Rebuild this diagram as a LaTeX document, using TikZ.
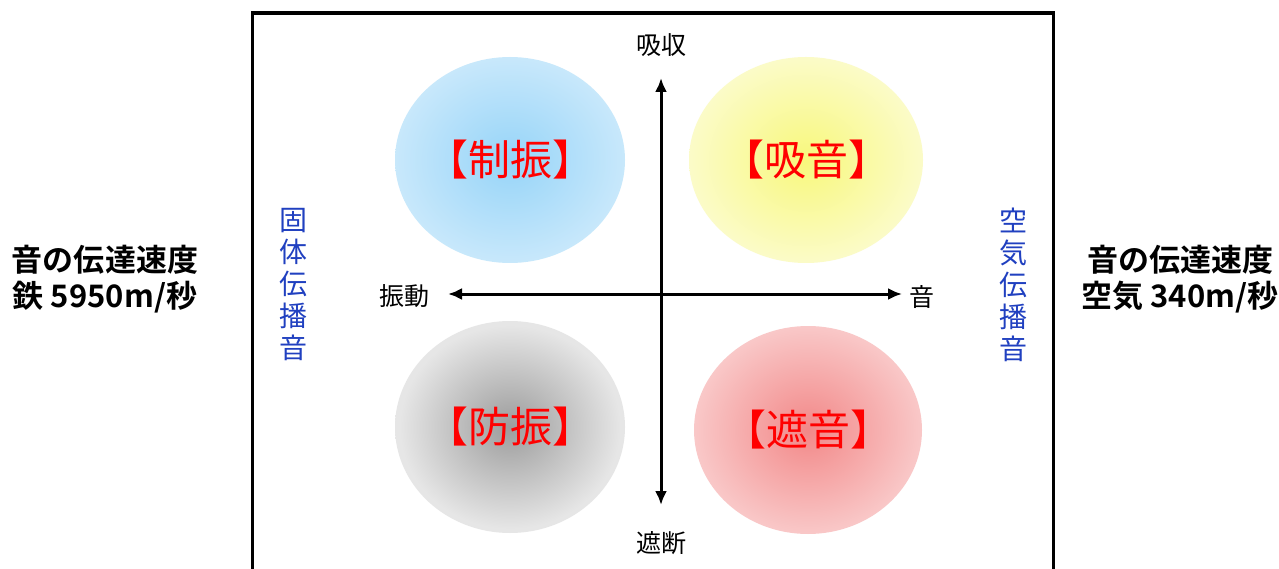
\documentclass[tikz,border=0pt]{standalone}
\usepackage{fontspec}
\setmainfont{Noto Sans CJK JP}
\newfontfamily\jpb{Noto Sans CJK JP Bold}
\usetikzlibrary{arrows.meta,shapes.geometric}
\definecolor{blueIn}{HTML}{96D4F8}
\definecolor{blueOut}{HTML}{C8E8FB}
\definecolor{yelIn}{HTML}{F8F87C}
\definecolor{yelOut}{HTML}{FBFBC8}
\definecolor{grayIn}{HTML}{9C9C9C}
\definecolor{grayOut}{HTML}{E6E6E6}
\definecolor{pinkIn}{HTML}{F28888}
\definecolor{pinkOut}{HTML}{F9C8C8}
\definecolor{txtRed}{HTML}{FF0000}
\definecolor{txtBlue}{HTML}{2040C0}
\pgfdeclareradialshading{shBlue}{\pgfpoint{0bp}{0bp}}{color(0bp)=(blueIn); color(25bp)=(blueOut); color(50bp)=(blueOut)}
\pgfdeclareradialshading{shYel}{\pgfpoint{0bp}{0bp}}{color(0bp)=(yelIn); color(25bp)=(yelOut); color(50bp)=(yelOut)}
\pgfdeclareradialshading{shGray}{\pgfpoint{0bp}{0bp}}{color(0bp)=(grayIn); color(24bp)=(grayOut); color(50bp)=(grayOut)}
\pgfdeclareradialshading{shPink}{\pgfpoint{0bp}{0bp}}{color(0bp)=(pinkIn); color(25bp)=(pinkOut); color(50bp)=(pinkOut)}
\tikzset{
  blob/.style={ellipse, inner sep=0pt, outer sep=0pt},
  bloblabel/.style={font=\fontsize{42}{48}\selectfont, text=txtRed, inner sep=0pt},
  axis/.style={line width=3pt, {Latex[length=14pt,width=12pt]}-{Latex[length=14pt,width=12pt]}},
  axlabel/.style={font=\fontsize{25}{30}\selectfont, inner sep=0pt},
  vlabel/.style={font=\fontsize{28}{32}\selectfont, text=txtBlue, align=center, inner sep=0pt},
  sidelabel/.style={font=\jpb\fontsize{31}{36}\selectfont, align=center, inner sep=0pt},
  frame/.style={line width=3.5pt}
}
\begin{document}
\begin{tikzpicture}[x=1pt,y=-1pt]
\useasboundingbox (0,0) rectangle (1279,569);
\clip (0,0) rectangle (1279,569);
\fill[white] (0,0) rectangle (1279,569);
\draw[frame] (252.5,580) -- (252.5,13) -- (1053.5,13) -- (1053.5,580);
\node[blob, shading=shBlue, minimum width=230pt, minimum height=206pt] (seishin) at (510,160) {};
\node[blob, shading=shYel, minimum width=234pt, minimum height=206pt] (kyuon) at (806,160) {};
\node[blob, shading=shGray, minimum width=230pt, minimum height=212pt] (boshin) at (510,427) {};
\node[blob, shading=shPink, minimum width=228pt, minimum height=208pt] (shaon) at (808,430) {};
\node[bloblabel] (tseishin) at (seishin.center) {【制振】};
\node[bloblabel] (tkyuon) at (kyuon.center) {【吸音】};
\node[bloblabel] (tboshin) at (boshin.center) {【防振】};
\node[bloblabel] (tshaon) at (shaon.center) {【遮音】};
\coordinate (vtop) at (661,78);
\coordinate (vbot) at (661,505);
\coordinate (hl) at (448,294);
\coordinate (hr) at (902,294);
\draw[axis] (vbot) -- (vtop);
\draw[axis] (hl) -- (hr);
\node[axlabel] (kyushu) at (661,45) {吸収};
\node[axlabel] (shadan) at (661,543) {遮断};
\node[axlabel] (shindo) at (404,296) {振動};
\node[axlabel] (oto) at (922,297) {音};
\node[vlabel] (koteki) at (293,285) {固\\体\\伝\\播\\音};
\node[vlabel] (kuki) at (1013,285) {空\\気\\伝\\播\\音};
\node[sidelabel] (left) at (105,279) {音の伝達速度\\鉄 5950m/秒};
\node[sidelabel] (right) at (1180,279) {音の伝達速度\\空気 340m/秒};
\end{tikzpicture}
\end{document}
